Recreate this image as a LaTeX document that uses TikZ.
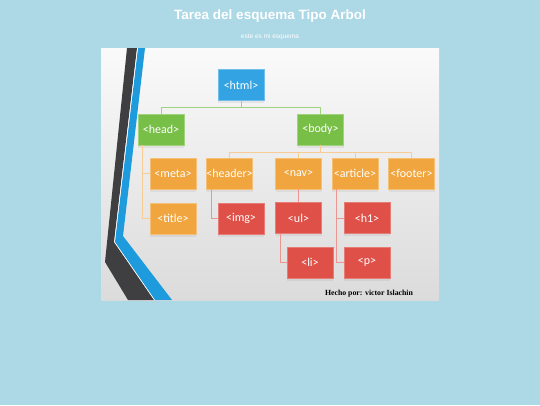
\documentclass[tikz,border=0pt]{standalone}
\usepackage{fontspec}
\setmainfont{Liberation Sans}
\newfontfamily\boxfont{Carlito}
\newfontfamily\signfont{Liberation Serif}
\usetikzlibrary{calc,shadows}

\definecolor{skyback}{HTML}{ADD8E6}
\definecolor{tagblue}{HTML}{33A3E3}
\definecolor{taggreen}{HTML}{78BF48}
\definecolor{tagorange}{HTML}{F0A53E}
\definecolor{tagred}{HTML}{DE5048}
\definecolor{stripedark}{HTML}{3F3F41}
\definecolor{stripeblue}{HTML}{1E9BDD}

\begin{document}
\begin{tikzpicture}[x=1pt, y=-1pt]

    \tikzstyle{tag}=[minimum width=46pt, minimum height=31pt, inner sep=0pt, line width=0.8pt, text=white, font=\boxfont\fontsize{12}{13}\selectfont, drop shadow={opacity=0.12, shadow xshift=0pt, shadow yshift=-2.5pt}];
    \tikzstyle{blue tag}=[tag, fill=tagblue, draw=tagblue!70!white];
    \tikzstyle{green tag}=[tag, fill=taggreen, draw=taggreen!70!white];
    \tikzstyle{orange tag}=[tag, fill=tagorange, draw=tagorange!70!white];
    \tikzstyle{red tag}=[tag, fill=tagred, draw=tagred!75!white];
    \tikzstyle{green link}=[draw=taggreen!70!white, line width=0.7pt];
    \tikzstyle{orange link}=[draw=tagorange!55!white, line width=0.7pt];
    \tikzstyle{red link}=[draw=tagred!60!white, line width=0.7pt];

    \useasboundingbox (0,0) rectangle (540,405);
    \fill[skyback] (0,0) rectangle (540,405);

    \node[text=white, font=\bfseries\fontsize{13.5}{15}\selectfont] (title) at (270,16) {Tarea del esquema Tipo Arbol};
    \node[text=white, font=\fontsize{6.5}{8}\selectfont] (subtitle) at (270,37) {este es mi esquema};

    % panel and stripes
    \shade[top color=white!96!gray, bottom color=gray!28] (101,48) rectangle (439,300);
    \fill[stripedark] (127,48) -- (137,48) -- (114,242) -- (154,300) -- (128,300) -- (105,262) -- cycle;
    \fill[stripeblue] (138,48) -- (145,48) -- (123,236) -- (172,300) -- (155,300) -- (115,242) -- cycle;
    \draw[white, line width=0.5pt] (137.5,48) -- (114.5,242) -- (154.5,300);

    \node[blue tag] (html) at (241,85) {<html>};

    \node[green tag] (head) at (161,129.5) {<head>};
    \node[green tag] (body) at (320.5,129.5) {<body>};

    \node[orange tag] (meta) at (173,173.5) {<meta>};
    \node[orange tag] (header) at (229.5,173.5) {<header>};
    \node[orange tag] (nav) at (298.5,173.5) {<nav>};
    \node[orange tag] (article) at (355,173.5) {<article>};
    \node[orange tag] (footer) at (411.5,173.5) {<footer>};

    \node[orange tag] (title) at (173,218.5) {<title>};
    \node[red tag] (img) at (241,218.5) {<img>};
    \node[red tag] (ul) at (298.5,218) {<ul>};
    \node[red tag] (h1) at (367,218) {<h1>};

    \node[red tag] (li) at (310,262.5) {<li>};
    \node[red tag] (p) at (367,262.5) {<p>};

    \node[font=\signfont\bfseries\fontsize{7.8}{9}\selectfont] (sign) at (369,294) {Hecho por: victor Islachin};

    \coordinate (htmlhub) at ($(html.south)+(0,6)$);
    \draw[green link] (html.south) -- (htmlhub) -| (head.north);
    \draw[green link] (htmlhub) -| (body.north);

    \coordinate (bodyhub) at ($(body.south)+(0,7)$);
    \draw[orange link] (body.south) -- (bodyhub);
    \foreach \n in {header, nav, article, footer}
        \draw[orange link] (bodyhub) -| (\n.north);

    \coordinate (headdrop) at ($(head.south west)+(5,0)$);
    \draw[orange link] (headdrop) |- (meta.west);
    \draw[orange link] (headdrop) |- (title.west);

    \coordinate (headerdrop) at ($(header.south west)+(5,0)$);
    \draw[red link] (headerdrop) |- (img.west);

    \draw[red link] (nav.south) -- (ul.north);

    \coordinate (uldrop) at ($(ul.south west)+(5,0)$);
    \draw[red link] (uldrop) |- (li.west);

    \coordinate (articledrop) at ($(article.south west)+(5,0)$);
    \draw[red link] (articledrop) |- (h1.west);
    \draw[red link] (articledrop) |- (p.west);

\end{tikzpicture}
\end{document}
